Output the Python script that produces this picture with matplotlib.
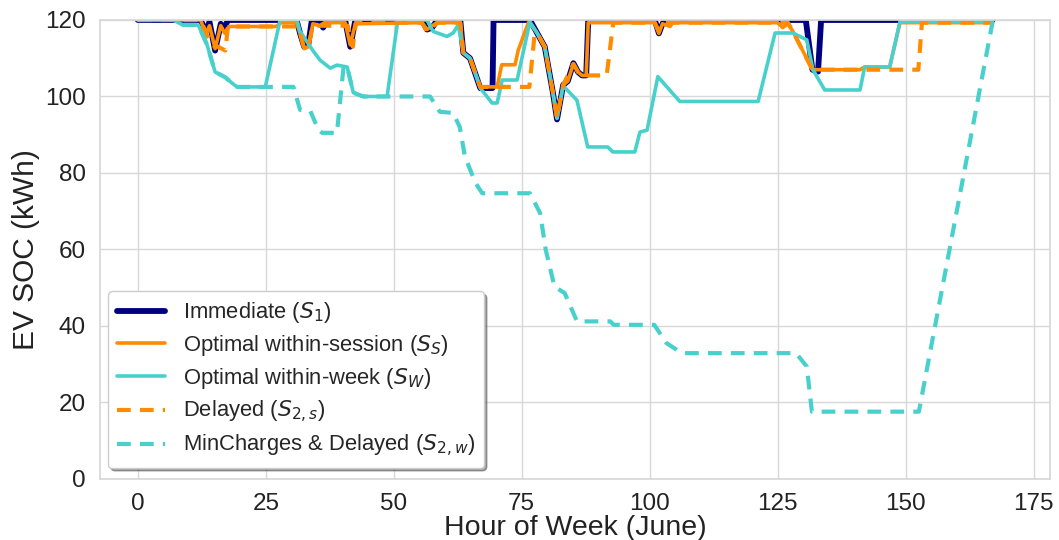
import matplotlib
matplotlib.use("Agg")
import matplotlib.pyplot as plt
import seaborn as sns

sns.set_theme(style="whitegrid")
plt.rcParams['font.family'] = ['Liberation Sans', 'DejaVu Sans']
plt.rcParams['mathtext.fontset'] = 'dejavusans'

# ---- data (hour of week, SOC kWh) ----
s1_h = [0, 12.3, 13.2, 14.0, 15.1, 16.2, 16.8, 17.6, 31.0, 31.8, 32.5, 33.3, 34.0, 35.5, 36.2, 37.0,
        40.5, 41.5, 42.5, 55.5, 56.5, 57.5, 58.5, 63.0, 63.6, 64.9, 66.9, 69.3, 69.5, 76.6, 78.0,
        79.5, 81.1, 81.9, 83.1, 84.0, 85.1, 86.0, 86.8, 87.6, 88.0, 101.0, 101.8, 102.5, 103.0,
        130.5, 131.8, 132.9, 133.5, 167]
s1_v = [120, 120, 117, 119.5, 112, 119, 117.5, 120, 120, 116, 113, 113.5, 120, 120, 118, 120,
        120, 113, 120, 120, 117.5, 118, 120, 120, 111.4, 110, 102.2, 102.2, 120, 120, 116.6,
        113, 101, 94, 103, 104, 108.7, 106.4, 105.5, 105.5, 120, 120, 116.5, 119, 120,
        120, 107, 106.5, 120, 120]

ss_h = [0, 12.3, 13.2, 14.0, 15.1, 16.2, 17.0, 17.8, 27.0, 28.0, 31.0, 31.8, 32.5, 33.3, 34.2, 35.5,
        36.5, 40.5, 41.5, 42.5, 55.5, 56.5, 57.5, 58.5, 63.0, 63.6, 64.9, 66.9, 70.2, 71.1, 73.7,
        74.3, 76.3, 76.6, 78.0, 79.5, 81.1, 81.9, 83.1, 84.0, 85.1, 86.0, 86.8, 87.6, 88.0, 101.0,
        101.8, 102.5, 104.0, 104.5, 125.0, 126.0, 127.0, 128.0, 131.8, 141.1, 142.0, 146.9, 148.9, 167]
ss_v = [120, 120, 116, 118.5, 112.5, 118.5, 116.5, 118.3, 118.3, 119.3, 119.3, 116, 112.5, 113, 119, 118.5,
        119.3, 119.3, 113.5, 119, 119.3, 117.5, 118.5, 119.3, 119.3, 111.4, 110, 102.5, 102.5, 108.3, 108.3,
        112, 119.3, 119.3, 116.6, 113, 101, 94.3, 103, 104, 108.5, 106.4, 105.5, 105.5, 119.3, 119.3,
        116.5, 119, 118.3, 119.3, 119.3, 118, 119, 117, 107, 107, 107.7, 107.7, 119.3, 119.3]

sw_h = [0, 6.9, 8.8, 11.8, 13.5, 15.1, 15.7, 17.1, 18.4, 19.4, 24.9, 27.8, 31.1, 31.7, 34.2, 35.6,
        37.6, 38.9, 40.9, 42.1, 44.0, 48.7, 50.8, 56.5, 57.7, 60.4, 61.6, 62.6, 63.6, 64.9, 66.9,
        69.2, 70.2, 71.2, 74.1, 76.6, 78.0, 79.5, 81.1, 81.9, 83.1, 85.8, 87.9, 91.8, 92.8, 97.1,
        98.1, 99.5, 101.6, 103.3, 105.9, 121.2, 124.5, 128.0, 130.7, 131.9, 134.2, 141.1, 142.0,
        146.9, 148.9, 167]
sw_v = [120, 120, 118.7, 118.7, 113.6, 106.4, 106, 105, 103.5, 102.5, 102.5, 120, 120, 117, 112, 109.5,
        107.4, 108.2, 107.7, 101, 100, 100, 120, 120, 117, 115.7, 116.6, 118.7, 111.4, 110, 102.2,
        98.3, 98.3, 104.3, 104.3, 119.5, 116.6, 113, 101, 94.3, 102.8, 99, 86.8, 86.8, 85.5, 85.5,
        90.7, 91.2, 105.2, 102.6, 98.7, 98.7, 116.6, 116.6, 114.8, 107, 101.7, 101.7, 107.7,
        107.7, 119.5, 119.5]

s2s_h = [0, 12.3, 13.5, 15.0, 15.7, 17.1, 17.6, 31.0, 31.8, 32.5, 33.3, 34.2, 41.0, 42.0, 42.6,
         55.5, 56.5, 58.5, 63.0, 63.6, 64.9, 66.9, 76.5, 77.5, 78.0, 79.5, 81.1, 81.9, 83.1, 85.1,
         86.0, 86.8, 91.6, 92.9, 101.0, 101.8, 102.5, 127.0, 128.0, 131.8, 152.5, 153.2, 167]
s2s_v = [120, 120, 116, 113, 113, 112, 118.3, 118.3, 116, 112.5, 113, 118.5, 118.5, 113, 119.3,
         119.3, 117, 119.3, 119.3, 111.4, 110, 102.5, 102.5, 116, 116.6, 113, 101, 94.3, 103, 108.5,
         106.4, 105.5, 105.5, 119.3, 119.3, 117, 119.3, 119.3, 117, 107, 107, 119.3, 119.3]

s2w_h = [0, 6.9, 8.8, 11.8, 13.5, 15.1, 15.7, 17.1, 18.4, 19.4, 30.4, 31.7, 33.7, 35.3, 36.0, 38.9,
         40.2, 40.9, 42.1, 44.0, 57.1, 59.0, 61.6, 62.9, 63.9, 66.0, 67.3, 76.6, 78.6, 79.7, 81.4,
         83.4, 85.8, 92.3, 93.0, 100.9, 103.3, 106.3, 128.6, 130.7, 131.7, 152.6, 167]
s2w_v = [120, 120, 118.7, 118.7, 113.6, 106.4, 106, 105, 103.5, 102.5, 102.5, 96.5, 96.2, 91.2, 90.5, 90.5,
         107.8, 107.7, 101, 100, 100, 96, 95.7, 92, 84.3, 77.3, 74.7, 74.7, 69.5, 59.9, 50.3,
         48.6, 41.2, 41.2, 40.3, 40.3, 35.5, 32.9, 32.9, 29.4, 17.6, 17.6, 119.5]

labels = ["Immediate ($S_1$)", "Optimal within-session ($S_S$)", "Optimal within-week ($S_W$)",
          "Delayed ($S_{2,s}$)", "MinCharges & Delayed ($S_{2,w}$)"]
x_ticks = [0, 25, 50, 75, 100, 125, 150, 175]
y_ticks = [0, 20, 40, 60, 80, 100, 120]

fig = plt.figure(figsize=(10.59, 5.40), dpi=100)
ax = fig.add_axes([0.0944, 0.113, 0.897, 0.850])

ax.plot(s1_h, s1_v, color='navy', lw=4.2, label=labels[0], solid_joinstyle='round')
ax.plot(ss_h, ss_v, color='darkorange', lw=2.6, label=labels[1])
ax.plot(sw_h, sw_v, color='mediumturquoise', lw=2.6, label=labels[2])
ax.plot(s2s_h, s2s_v, color='darkorange', lw=3.0, ls=(0, (3.3, 2.2)), label=labels[3])
ax.plot(s2w_h, s2w_v, color='mediumturquoise', lw=3.0, ls=(0, (3.3, 2.2)), label=labels[4])

ax.set_xlim(-7.4, 178.2)
ax.set_ylim(0, 120)
ax.set_xticks(x_ticks)
ax.set_yticks(y_ticks)
ax.tick_params(axis='both', labelsize=17.5, colors='#222222', pad=4)
ax.set_xlabel("Hour of Week (June)", fontsize=20.5, color='#222222', labelpad=0)
ax.set_ylabel("EV SOC (kWh)", fontsize=21.5, color='#222222', labelpad=4)
ax.grid(True, color='#d8d8d8', lw=1.0)
for sp in ax.spines.values():
    sp.set_color('#d8d8d8')

leg = ax.legend(loc='lower left', fontsize=15.8, frameon=True, shadow=True, fancybox=True,
                borderpad=0.4, labelspacing=0.36, handlelength=2.2, bbox_to_anchor=(-0.003, 0.0))
leg.get_frame().set_edgecolor('#cccccc')
leg.get_frame().set_alpha(1.0)

fig.savefig("out.png", dpi=100)
